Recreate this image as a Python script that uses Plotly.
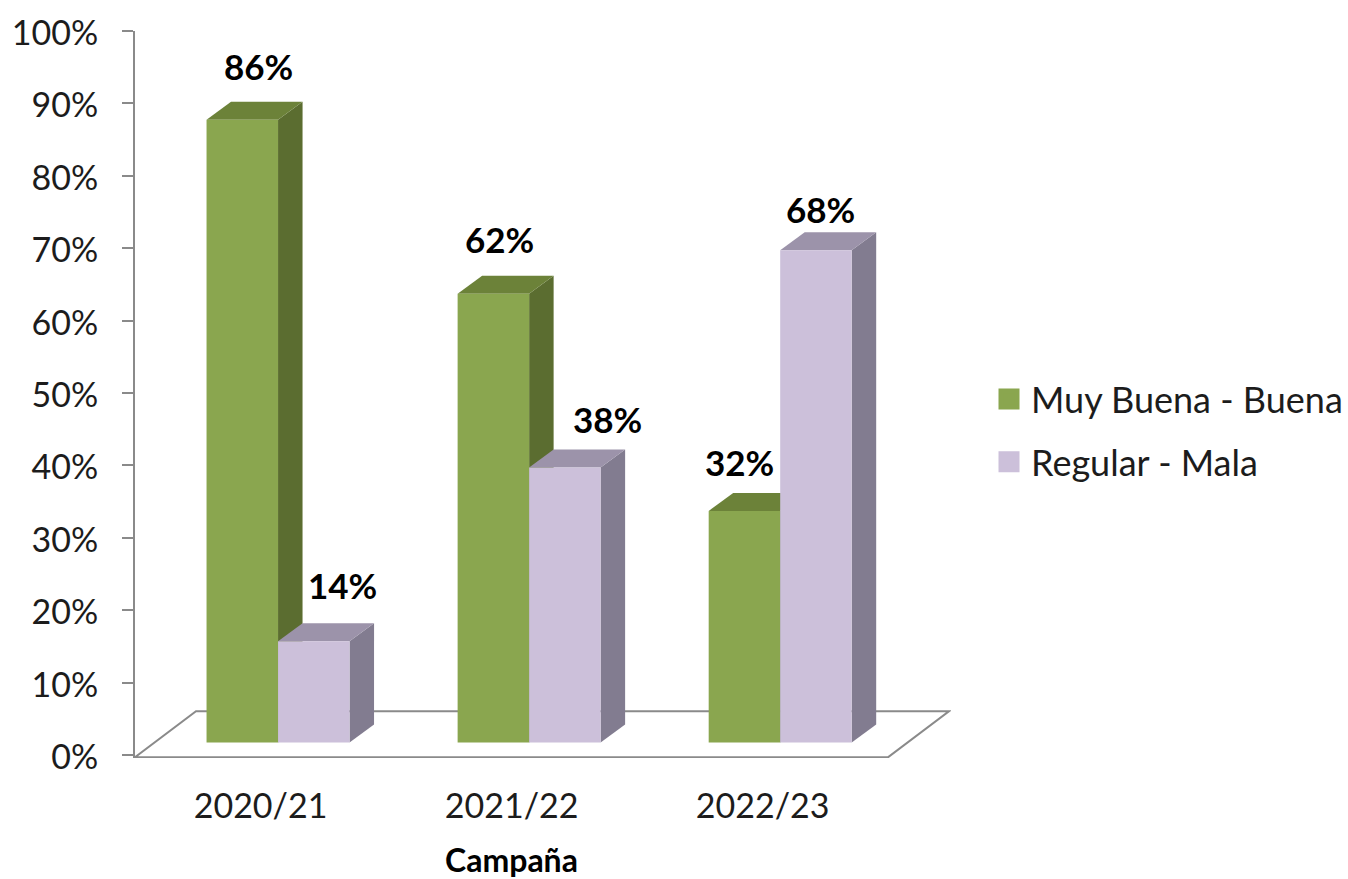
import plotly.graph_objects as go

# ---- data ----
categories = ["2020/21", "2021/22", "2022/23"]
series_names = ["Muy Buena - Buena", "Regular - Mala"]
muy_buena = [86, 62, 32]
regular = [14, 38, 68]
y_ticks = list(range(0, 101, 10))
y_labels = [f"{v}%" for v in y_ticks]

# ---- styling ----
front = ["#8aa64f", "#ccc0da"]
side = ["#5b6d30", "#827c90"]
top = ["#6c8239", "#9c93aa"]
FONT = "Lato, Carlito, Calibri, sans-serif"
TXT = "#1c1c1c"
AXIS = "#8a8a8a"

W, H = 1348, 879
M_L, M_R, M_T, M_B = 135, 397, 31, 121
X_RANGE = [-0.5, 2.75]
Y_RANGE = [-0.4, 100]
px_x = (W - M_L - M_R) / (X_RANGE[1] - X_RANGE[0])
px_y = (H - M_T - M_B) / (Y_RANGE[1] - Y_RANGE[0])

bar_w = 71.5 / px_x
shift = 17.5 / px_x            # fronts sit right of the category centre
lift = 12.5 / px_y             # fronts sit above the axis zero
depth_x = 24.5 / px_x
depth_y = 18 / px_y
floor_dx = 61 / px_x
floor_dy = 46 / px_y
floor_y = -0.28

# pixel nudges of the hand-placed value labels, per series per category
label_dx = [[16, 6, -5], [29, 43, 5]]
label_dy = [[54, 55, 49], [56, 48, 41]]

xs = list(range(len(categories)))
all_values = [muy_buena, regular]

shapes = []
# floor
fl, fr = X_RANGE[0], 2.5
shapes.append(dict(
    type="path", xref="x", yref="y", layer="below",
    path=f"M{fl},{floor_y} L{fl + floor_dx},{floor_y + floor_dy} L{fr + floor_dx},{floor_y + floor_dy} L{fr},{floor_y} Z",
    line=dict(color=AXIS, width=2), fillcolor="rgba(255,255,255,0)",
))
# side and top faces of each column
for s, vals in enumerate(all_values):
    for i, v in enumerate(vals):
        xl = i + shift - bar_w + s * bar_w
        xr = xl + bar_w
        yt = v + lift + 0
        yb = lift
        shapes.append(dict(
            type="path", xref="x", yref="y", layer="below", line=dict(width=0), fillcolor=side[s],
            path=f"M{xr},{yb} L{xr + depth_x},{yb + depth_y} L{xr + depth_x},{yt + depth_y} L{xr},{yt} Z",
        ))
        shapes.append(dict(
            type="path", xref="x", yref="y", layer="below", line=dict(width=0), fillcolor=top[s],
            path=f"M{xl},{yt} L{xl + depth_x},{yt + depth_y} L{xr + depth_x},{yt + depth_y} L{xr},{yt} Z",
        ))

fig = go.Figure()
for s, vals in enumerate(all_values):
    fig.add_trace(go.Bar(
        x=xs, y=vals, base=lift, width=bar_w,
        offset=shift - bar_w + s * bar_w,
        marker=dict(color=front[s], line=dict(width=0)),
        name=series_names[s], showlegend=False,
    ))
# legend keys
for s in range(2):
    fig.add_trace(go.Scatter(
        x=[None], y=[None], mode="markers", name=series_names[s], legendgroup=series_names[s],
        marker=dict(symbol="square", size=16, color=front[s], line=dict(color=front[s], width=5)),
    ))

annotations = []
for s, vals in enumerate(all_values):
    for i, v in enumerate(vals):
        annotations.append(dict(
            x=i + shift - bar_w / 2 + s * bar_w, y=v + lift, text=f"<b>{v}%</b>", showarrow=False,
            xanchor="center", yanchor="middle", xshift=label_dx[s][i], yshift=label_dy[s][i],
            font=dict(family=FONT, size=35, color="#000000"),
        ))
annotations.append(dict(
    x=1, xref="x", y=(H - M_B - 859) / (H - M_T - M_B), yref="paper", text="<b>Campaña</b>", showarrow=False,
    xanchor="center", yanchor="middle", font=dict(family=FONT, size=32, color="#000000"),
))

fig.update_layout(
    width=W, height=H, autosize=False,
    margin=dict(l=M_L, r=M_R, t=M_T, b=M_B, pad=0, autoexpand=False),
    paper_bgcolor="white", plot_bgcolor="white",
    font=dict(family=FONT, size=34, color=TXT),
    shapes=shapes, annotations=annotations,
    barmode="overlay",
    legend=dict(
        x=(987 - M_L) / (W - M_L - M_R), y=(H - M_B - 369) / (H - M_T - M_B),
        xanchor="left", yanchor="top", itemwidth=34,
        tracegroupgap=13, traceorder="grouped", bgcolor="rgba(0,0,0,0)",
        font=dict(family=FONT, size=36, color=TXT),
    ),
    xaxis=dict(
        range=X_RANGE, tickmode="array", tickvals=xs, ticktext=categories, automargin=False,
        showgrid=False, zeroline=False, showline=False, ticks="", ticklabelstandoff=25,
        tickfont=dict(family=FONT, size=34, color=TXT),
    ),
    yaxis=dict(
        range=Y_RANGE, tickmode="array", tickvals=y_ticks, ticktext=y_labels, automargin=False,
        showgrid=False, zeroline=False, showline=True, linecolor=AXIS, linewidth=2,
        ticks="outside", ticklen=11, tickwidth=2, tickcolor=AXIS, ticklabelstandoff=17,
        ticklabelshift=2,
        tickfont=dict(family=FONT, size=34, color=TXT),
    ),
)

fig.write_html("out.html", config={"displayModeBar": False},
               post_script="document.body.style.margin='0';document.body.style.overflow='hidden';")
